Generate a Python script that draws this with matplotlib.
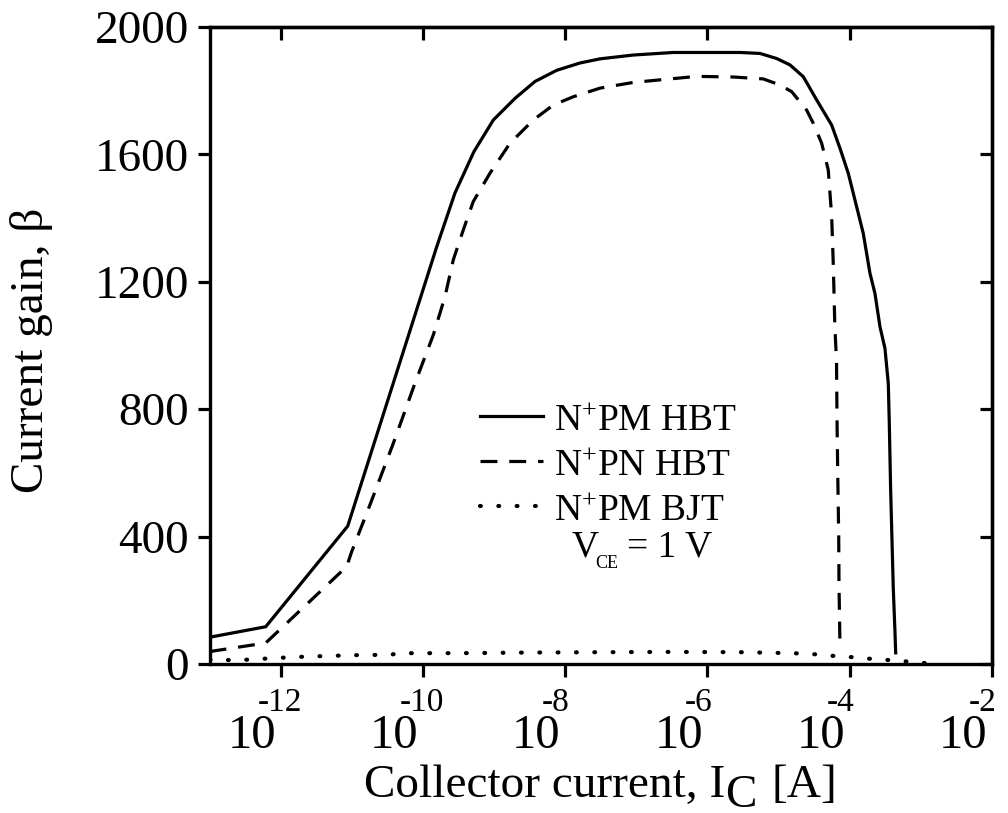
import numpy as np
import matplotlib.pyplot as plt
from matplotlib.ticker import NullLocator
from matplotlib.transforms import IdentityTransform

plt.rcParams['font.family'] = 'Liberation Serif'
plt.rcParams['mathtext.fontset'] = 'custom'
plt.rcParams['mathtext.rm'] = 'Liberation Serif'
plt.rcParams['mathtext.it'] = 'Liberation Serif:italic'
plt.rcParams['mathtext.bf'] = 'Liberation Serif:bold'

# log10(Ic [A]) and current gain
pm_hbt_logic = [-13.0, -12.211, -11.058, -9.807, -9.550, -9.283, -9.011, -8.706, -8.425,
                -8.120, -7.793, -7.511, -7.043, -6.481, -5.543, -5.262, -5.027, -4.840,
                -4.653, -4.465, -4.254, -4.137, -4.021, -3.927, -3.810, -3.716, -3.646,
                -3.575, -3.505, -3.458, -3.444, -3.425, -3.406, -3.388, -3.364, -3.354]
pm_hbt_beta = [84, 117, 433, 1310, 1479, 1609, 1708, 1776, 1829,
               1864, 1887, 1900, 1912, 1920, 1920, 1917, 1901, 1881,
               1844, 1771, 1692, 1619, 1541, 1457, 1352, 1227, 1164,
               1059, 991, 881, 756, 546, 389, 238, 100, 35]

pn_hbt_logic = [-13.0, -12.211, -11.073, -11.002, -10.745, -10.417, -10.112, -9.855, -9.691,
                -9.574, -9.433, -9.293, -9.058, -8.777, -8.449, -8.168, -7.887, -7.511,
                -7.043, -6.574, -6.152, -5.637, -5.216, -4.981, -4.816, -4.606, -4.513,
                -4.395, -4.302, -4.254, -4.232, -4.210, -4.186, -4.178, -4.169, -4.155,
                -4.151, -4.137]
pn_hbt_beta = [39, 66, 306, 353, 500, 693, 882, 1033, 1153,
               1269, 1363, 1452, 1541, 1635, 1708, 1755, 1781, 1808,
               1826, 1836, 1845, 1843, 1837, 1818, 1797, 1739, 1698,
               1635, 1551, 1405, 1259, 1064, 950, 750, 600, 400,
               250, 50]

pm_bjt_logic = [-13.0, -12.6, -12.2, -11.8, -11.4, -10.9, -10.45, -10.35, -9.5, -8.5,
                -7.5, -6.5, -5.5, -4.8, -4.45, -4.21, -3.93, -3.65, -3.41, -3.15, -2.9]
pm_bjt_beta = [13, 12, 17, 22, 25, 28, 29, 34, 34, 36,
               37, 38, 37, 34, 30, 25, 21, 15, 12, 7, 2]

xtick_exp = [-12, -10, -8, -6, -4, -2]
ytick_vals = [0, 400, 800, 1200, 1600, 2000]

W, H = 1008, 813
fig = plt.figure(figsize=(W / 100, H / 100), dpi=100)
ax = fig.add_axes([209.6 / W, 1 - 664 / H, (992 - 209.6) / W, 637 / H])

lw = 2.3
ax.plot(10.0 ** np.array(pm_hbt_logic), pm_hbt_beta, color='black', lw=lw,
        label=r'N$^{+}$PM HBT')
ax.plot(10.0 ** np.array(pn_hbt_logic), pn_hbt_beta, color='black', lw=lw,
        ls=(0, (5.3, 3.7)), label=r'N$^{+}$PN HBT')
ax.plot(10.0 ** np.array(pm_bjt_logic), pm_bjt_beta, color='black', lw=3.0,
        ls=(0, (0.2, 4.2)), dash_capstyle='round', label=r'N$^{+}$PM BJT')

ax.set_xscale('log')
ax.set_xlim(1e-13, 1e-2)
ax.set_ylim(0, 2000)
ax.set_xticks(10.0 ** np.array(xtick_exp))
ax.xaxis.set_minor_locator(NullLocator())
ax.set_yticks(ytick_vals)
ax.tick_params(direction='out', length=9, width=2.3, labelsize=34, pad=6,
               top=False, right=False, labelbottom=False)
for s in ax.spines.values():
    s.set_linewidth(2.4)

# top and right ticks point inwards
secx = ax.secondary_xaxis('top')
secx.set_xticks(10.0 ** np.array(xtick_exp))
secx.xaxis.set_minor_locator(NullLocator())
secx.tick_params(direction='in', length=9, width=2.3, labeltop=False)
secx.spines['top'].set_linewidth(2.4)
secy = ax.secondary_yaxis('right')
secy.set_yticks(ytick_vals)
secy.tick_params(direction='in', length=9, width=2.3, labelright=False)
secy.spines['right'].set_linewidth(2.4)

ax.set_ylabel('Current gain, β', fontsize=34)
ax.yaxis.set_label_coords(-0.2, 0.493)

ident = IdentityTransform()
# x tick labels: "10" with raised exponent
spine_y = ax.transAxes.transform((0, 0))[1]
for e in xtick_exp:
    tx = ax.transData.transform((10.0 ** e, 1))[0]
    fig.text(tx - 4.5, spine_y - 84, '10', fontsize=35, ha='right', va='baseline',
             transform=ident)
    fig.text(tx - 23, spine_y - 47, str(e), fontsize=24, ha='left', va='baseline',
             transform=ident)

renderer = fig.canvas.get_renderer()

# x label with a full-size lowered "C"
base = H - 797
t1 = fig.text(364, base, 'Collector current, I', fontsize=34, ha='left', va='baseline',
              transform=ident)
x1 = t1.get_window_extent(renderer).x1
t2 = fig.text(x1, base - 10, 'C', fontsize=34, ha='left', va='baseline', transform=ident)
x2 = t2.get_window_extent(renderer).x1
fig.text(x2 + 15, base, '[A]', fontsize=34, ha='left', va='baseline', transform=ident)

leg = ax.legend(loc='upper left', bbox_to_anchor=((480 - 209.6) / 782.4, (664 - 403) / 637),
                frameon=False, fontsize=27, handlelength=1.68, handletextpad=0.3,
                labelspacing=0.28, borderpad=0, borderaxespad=0)

# V_CE = 1 V note
fig.text(572, H - 556, 'V', fontsize=27, ha='left', va='baseline', transform=ident)
fig.text(595, H - 568, 'CE', fontsize=13, ha='left', va='baseline', transform=ident)
fig.text(627, H - 556, '= 1 V', fontsize=27, ha='left', va='baseline', transform=ident)

fig.savefig('out.png', dpi=100)
